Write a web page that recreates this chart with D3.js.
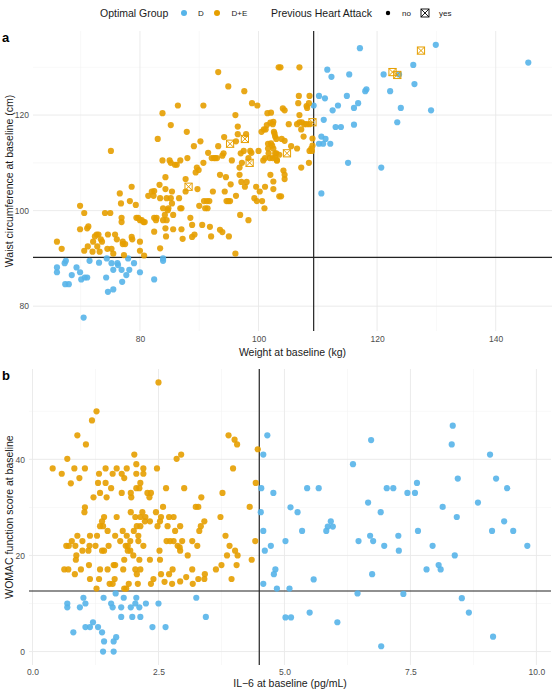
<!DOCTYPE html>
<html>
<head>
<meta charset="utf-8">
<script src="https://cdn.jsdelivr.net/npm/d3@7"></script>
<style>
    body { margin: 0; background: #fff; }
    svg { display: block; font-family: "Liberation Sans", Arial, sans-serif; }
</style>
</head>
<body>
<script>
(function () {
    "use strict";

    // colours of the two optimal groups
    var groupNames = ["D", "D+E"];
    var groupColors = ["#56B4E9", "#E69F00"];

    // panel a: weight (kg) vs waist (cm)
    var weightWaistD = [
        [66.0,88.1],[66.0,87.1],[67.3,89.0],[67.5,89.5],[67.4,84.6],[68.0,84.6],[68.5,86.5],[69.3,88.1],
        [69.9,87.1],[70.1,85.6],[70.7,86.0],[71.1,86.0],[70.5,77.6],[71.5,89.5],[73.1,89.1],[74.4,90.0],
        [74.3,86.0],[74.6,83.0],[75.5,83.5],[75.2,89.0],[75.5,87.6],[76.2,89.0],[76.3,88.6],[76.9,87.6],
        [77.0,85.1],[77.7,86.5],[78.0,90.0],[78.2,87.6],[79.0,89.0],[80.0,87.1],[82.4,85.6],[83.9,90.0],
        [83.9,89.5],
        [109.3,122.0],[110.2,124.0],[111.2,123.5],[111.6,129.5],[112.3,128.0],[111.0,119.0],[110.6,115.5],
        [110.2,114.0],[110.9,114.0],[111.3,115.0],[112.1,114.0],[110.6,103.6],[112.5,121.0],[113.4,122.0],
        [113.0,117.5],[113.9,117.5],[114.9,124.0],[115.3,128.5],[115.1,110.0],[116.1,121.5],[116.1,118.0],
        [116.8,122.5],[117.1,134.0],[118.0,125.0],[118.2,125.4],[120.7,109.0],[121.1,128.5],[122.2,125.0],
        [123.4,118.5],[123.7,128.5],[124.0,121.5],[126.1,130.5],[126.3,126.5],[129.1,121.0],[129.9,134.7],
        [145.5,131.0]
    ];
    var weightWaistDE = [
        [66.0,93.5],[66.8,92.0],[69.9,101.0],[69.9,96.1],[70.6,99.5],[70.6,91.6],[71.1,96.3],[71.3,96.7],
        [71.2,92.5],[72.0,91.4],[72.1,93.5],[72.4,94.6],[72.7,95.0],[72.8,92.5],[73.0,95.0],[73.2,91.4],
        [73.4,94.0],[73.6,93.5],[74.1,99.5],[74.5,92.0],[74.6,95.0],[75.0,99.5],[75.1,112.5],[75.2,92.0],
        [75.5,91.0],[75.8,95.0],[76.1,94.0],[76.6,103.6],[76.8,101.5],[76.9,98.5],[76.9,97.6],[77.1,93.5],
        [77.1,93.0],[77.5,93.0],[77.3,90.7],[78.3,102.0],[78.6,105.0],[78.7,94.0],[78.6,94.5],[79.3,101.2],
        [79.4,98.5],[79.7,98.5],[80.0,98.0],[80.3,98.0],[80.6,97.6],[80.8,97.6],[80.0,93.5],[80.0,91.6],
        [80.7,90.6],[81.4,103.1],[82.0,104.0],[82.3,103.1],[82.4,104.1],[82.7,98.0],[82.4,98.5],[82.8,98.5],
        [82.4,95.6],[83.0,115.0],[83.3,105.4],[83.4,102.6],[83.4,92.1],[83.8,120.4],[83.8,110.5],[85.2,117.9],
        [83.9,100.5],[83.9,98.0],[84.2,99.1],[84.3,96.3],[84.5,98.0],[84.3,107.0],[84.3,104.5],[84.5,102.6],
        [84.7,100.1],[84.8,100.5],[84.4,94.6],[85.0,110.5],[85.2,110.0],[85.2,102.6],[85.4,104.0],[85.4,101.5],
        [85.6,99.1],[85.6,96.1],[85.9,109.6],[86.2,109.6],[86.4,122.0],[86.6,102.6],[86.8,110.5],[86.8,100.5],
        [87.0,100.5],[87.0,96.1],[87.2,94.1],[87.7,104.0],[87.7,106.6],[87.9,116.5],[88.0,111.0],[88.5,98.5],
        [88.8,97.0],[88.8,94.5],[89.1,113.5],[89.2,95.0],[89.4,108.0],[89.6,109.0],[89.7,104.5],[89.9,108.5],
        [90.0,101.0],[90.2,114.5],[90.5,97.0],[90.7,122.0],[90.7,110.0],[90.8,102.0],[91.0,100.5],[91.3,102.0],
        [91.4,100.5],[91.5,112.1],[91.7,102.0],[91.8,96.6],[92.0,94.6],[92.1,111.0],[92.3,104.0],[92.5,111.0],
        [92.7,111.0],[93.0,111.0],[93.2,129.0],[93.2,113.5],[93.5,107.5],[93.5,96.0],[93.9,95.5],[93.9,111.5],
        [94.1,112.0],[94.2,115.4],[94.3,104.0],[94.5,107.0],[94.6,102.0],[94.9,126.0],[94.9,102.0],[95.0,94.6],
        [95.2,102.0],[95.3,105.5],[95.5,110.5],[96.1,91.0],[96.1,120.0],[96.2,103.1],[96.2,114.5],[96.5,117.6],
        [96.5,116.0],[96.8,109.0],[96.8,107.5],[96.9,99.1],[97.0,112.0],[97.2,110.0],[97.1,106.0],[97.5,112.5],
        [97.6,125.0],[97.7,105.0],[97.9,116.0],[98.0,106.0],[98.3,98.0],[98.3,111.0],[98.6,112.5],[98.8,112.1],
        [98.9,122.5],[99.3,102.6],[99.6,105.0],[99.7,102.0],[99.8,122.0],[100.0,112.5],[100.2,104.0],
        [100.5,116.5],[100.6,102.0],[100.8,110.5],[100.9,117.0],[101.0,100.5],[101.1,105.0],[101.1,111.0],
        [101.2,117.0],[101.4,117.9],[101.5,120.4],[101.6,114.0],[101.6,113.0],[101.7,112.0],[101.9,111.0],
        [102.0,107.5],[102.5,118.6],[102.5,104.5],[102.6,116.5],[102.8,115.5],[102.8,112.0],[103.1,110.5],
        [103.4,130.0],[103.5,103.0],
        [103.7,130.0],[106.9,130.0],[102.1,120.5],[104.1,121.4],[104.4,121.0],[102.0,118.4],[102.4,118.1],
        [102.7,116.1],[103.0,115.0],[103.9,115.0],[104.4,114.6],[102.1,114.1],[102.3,113.6],[102.5,113.0],
        [103.0,112.0],[102.8,111.1],[103.1,110.5],[103.5,111.7],[102.4,111.0],[102.5,106.1],[104.2,108.4],
        [104.4,107.5],[104.4,106.6],[103.8,103.0],[105.1,118.1],[105.5,113.5],[106.5,118.1],[106.9,118.5],
        [107.3,118.5],[107.7,118.1],[108.1,118.1],[108.6,118.1],[106.8,124.0],[106.7,122.5],[106.9,120.0],
        [108.1,121.9],[108.2,121.5],[108.6,124.0],[108.5,122.5],[107.2,117.0],[107.6,115.5],[106.5,113.0],
        [107.2,109.0],[108.5,110.0],[109.1,115.1],[109.1,113.6],[108.9,113.0],[108.6,112.5],[109.0,112.5]
    ];
    // D+E participants with a previous heart attack
    var weightWaistHeart = [
        [88.2,105.0],[95.2,114.0],[97.7,115.0],[98.5,110.0],[109.1,118.5],[104.8,112.0],
        [122.6,129.0],[123.4,128.4],[127.4,133.5]
    ];

    // panel b: IL-6 (pg/mL) vs WOMAC function score
    var il6WomacD = [
        [0.69,10.0],[0.69,9.2],[0.94,9.2],[1.01,11.2],[1.05,10.0],[0.81,4.0],[1.05,5.1],[1.14,5.1],
        [1.20,6.1],[1.30,5.1],[1.38,4.0],[1.42,2.1],[1.40,0.0],[1.61,2.1],[1.61,0.0],[1.66,3.0],
        [1.41,11.2],[1.56,10.0],[1.59,9.2],[1.65,12.1],[1.76,9.2],[1.76,7.2],[1.81,11.2],[1.95,9.2],
        [1.98,7.2],[2.04,10.0],[2.06,11.2],[2.12,9.2],[2.14,7.2],[2.25,10.0],[2.38,5.1],[2.50,10.0],
        [2.64,5.1],[3.25,11.2],[3.44,7.2],
        [4.58,41.0],[4.66,45.0],[4.54,34.0],[4.78,33.0],[4.53,29.0],[4.58,25.1],[4.61,21.0],[4.73,22.0],
        [4.82,17.1],[4.79,16.1],[4.58,14.1],[4.85,13.1],
        [5.02,23.0],[5.02,7.1],[5.10,13.1],[5.13,7.1],[5.12,30.0],[5.26,29.0],[5.35,25.1],[5.45,34.0],
        [5.50,8.1],[5.58,15.0],[5.68,34.0],[5.83,25.1],[5.86,26.0],[5.92,27.1],[5.96,26.0],[6.05,6.1],
        [6.36,39.0],[6.45,12.1],[6.47,23.0],[6.66,31.0],[6.70,24.1],[6.72,44.0],[6.74,16.1],[6.76,23.0],
        [6.92,1.1],[6.91,29.0],[6.98,22.0],[7.03,34.0],[7.16,34.0],[7.26,24.1],[7.27,21.0],[7.36,12.0],
        [7.44,33.0],[7.59,33.0],[7.63,35.1],[7.65,25.1],[7.82,17.1],[7.94,22.0],[8.06,18.0],[8.10,17.1],
        [8.14,30.1],[8.32,43.1],[8.34,47.0],[8.38,20.0],[8.42,28.0],[8.44,36.0],[8.52,11.1],[8.66,8.1],
        [8.84,31.0],[9.08,41.0],[9.12,25.1],[9.14,3.1],[9.20,36.0],[9.36,27.1],[9.42,34.0],[9.54,25.1],
        [9.82,22.0]
    ];
    var il6WomacDE = [
        [2.50,56.0],[1.27,50.0],[1.18,48.1],[0.89,45.0],[1.06,43.1],[3.89,45.0],[4.01,44.1],[4.06,43.1],
        [4.47,42.1],[0.69,40.1],[2.02,41.0],[2.95,41.0],[2.86,40.1],[3.98,38.1],[0.40,38.1],[0.83,38.1],
        [1.04,38.1],[1.45,38.1],[1.67,38.1],[2.47,38.1],[2.20,38.1],[0.58,37.0],[0.93,36.1],[1.32,37.0],
        [1.59,37.0],[1.77,37.0],[1.87,38.1],[2.06,39.0],[2.20,37.0],[2.06,37.0],[1.82,36.1],[0.76,35.0],
        [1.30,35.1],[1.45,35.1],[2.14,35.1],[2.06,34.0],[2.12,34.0],[1.56,34.0],[2.65,34.0],[3.01,34.0],
        [4.43,35.1],[1.34,33.0],[1.47,32.1],[1.77,33.0],[1.95,33.0],[1.96,32.1],[2.28,33.0],[2.35,33.0],
        [2.32,32.1],[1.21,32.1],[3.77,33.0],[3.35,32.1],[3.24,30.1],[3.29,30.1],[4.31,30.1],[2.59,30.1],
        [1.04,30.0],[1.03,29.0],[1.95,29.0],[2.45,29.0],[2.04,28.0],[2.14,28.0],[2.18,29.0],[2.24,28.0],
        [1.67,28.0],[1.42,28.0],[2.55,28.0],[2.71,28.0],[2.80,28.0],[3.73,28.0],[2.23,27.1],[2.33,27.1],
        [2.53,27.1],[1.38,27.1],[3.41,27.1],[1.34,26.1],[1.40,26.1],[2.07,26.1],[2.14,26.1],[2.48,26.1],
        [2.68,26.1],[2.93,26.1],[3.34,26.1],[0.89,24.1],[1.14,24.1],[1.28,24.1],[1.79,25.1],[1.49,25.1],
        [2.01,25.1],[2.83,25.1],[3.31,25.1],[1.64,24.1],[1.87,24.1],[2.10,24.1],[3.83,24.1],[4.42,23.0],
        [3.17,23.0],[2.66,23.0],[2.73,23.0],[2.80,23.0],[2.97,23.0],[0.78,23.0],[0.99,23.0],[1.74,23.0],
        [1.94,23.0],[2.10,23.0],[2.20,22.0],[0.67,22.0],[0.72,22.0],[0.85,22.0],[1.13,22.0],[1.25,22.0],
        [1.51,22.0],[1.85,22.0],[1.89,22.0],[2.88,22.0],[2.92,21.7],[3.27,22.0],[3.91,22.0],[0.99,21.0],
        [1.11,21.0],[1.38,21.0],[1.42,21.0],[1.89,21.0],[1.94,21.0],[2.93,21.0],[2.52,21.0],[4.02,21.0],
        [0.87,20.0],[2.00,20.0],[3.08,20.0],[3.86,20.0],[4.07,20.0],[0.86,19.1],[1.82,19.1],[2.12,19.1],
        [2.33,19.1],[2.53,19.1],[4.35,19.1],[1.12,18.0],[1.61,18.0],[1.64,18.0],[3.75,18.0],[4.05,18.0],
        [0.63,17.1],[0.71,17.1],[0.96,17.1],[1.34,17.1],[1.49,17.1],[1.80,17.1],[2.04,17.1],[2.14,17.1],
        [2.78,17.1],[3.17,17.1],[3.64,17.1],[0.84,16.1],[2.07,16.1],[2.55,16.1],[2.71,16.1],[3.42,16.1],
        [1.14,15.1],[1.32,15.1],[1.63,15.1],[2.40,15.1],[3.29,15.1],[3.41,15.1],[3.95,15.1],[1.53,14.1],
        [1.59,14.1],[1.91,14.1],[2.09,14.1],[2.35,14.1],[2.77,14.1],[3.18,14.1],[1.27,13.1],[1.82,13.1],
        [1.86,13.1],[2.62,14.5],[2.93,14.6],[3.05,15.5]
    ];

    // cut-offs drawn as reference lines
    var weightCut = 109.3, waistCut = 90.2;
    var il6Cut = 4.5, womacCut = 12.6;

    var width = 558, height = 690;

    var svg = d3.select("body").append("svg")
        .attr("width", width)
        .attr("height", height);

    svg.append("rect").attr("width", width).attr("height", height).attr("fill", "white");

    /*
     * LEGEND
     */
    var legend = svg.append("g").attr("transform", "translate(0,13)");
    legend.append("text").attr("x", 100).attr("y", 4).attr("font-size", 10.5).attr("fill", "#1a1a1a")
        .text("Optimal Group");
    legend.selectAll("circle.grp").data(groupNames).enter().append("circle")
        .attr("class", "grp")
        .attr("cx", function (d, i) { return 184 + i * 33; })
        .attr("cy", 0).attr("r", 3)
        .attr("fill", function (d, i) { return groupColors[i]; });
    legend.selectAll("text.grp").data(groupNames).enter().append("text")
        .attr("class", "grp")
        .attr("x", function (d, i) { return 198 + i * 33.5; })
        .attr("y", 3).attr("font-size", 8).attr("fill", "#1a1a1a")
        .text(function (d) { return d; });
    legend.append("text").attr("x", 271).attr("y", 4).attr("font-size", 10.5).attr("fill", "#1a1a1a")
        .text("Previous Heart Attack");
    legend.append("circle").attr("cx", 388).attr("cy", 0).attr("r", 2.2).attr("fill", "black");
    legend.append("text").attr("x", 402).attr("y", 3).attr("font-size", 8).attr("fill", "#1a1a1a").text("no");
    drawBoxX(legend, 425, 0, 4, "black");
    legend.append("text").attr("x", 439).attr("y", 3).attr("font-size", 8).attr("fill", "#1a1a1a").text("yes");

    function drawBoxX(sel, cx, cy, h, color) {
        var g = sel.append("g").attr("transform", "translate(" + cx + "," + cy + ")")
            .attr("fill", "none").attr("stroke", color).attr("stroke-width", 0.9);
        g.append("rect").attr("x", -h).attr("y", -h).attr("width", 2 * h).attr("height", 2 * h);
        g.append("path").attr("d", "M" + (-h) + "," + (-h) + "L" + h + "," + h + "M" + h + "," + (-h) + "L" + (-h) + "," + h);
        return g;
    }

    /*
     * PANELS
     */
    function drawPanel(p) {
        var x = d3.scaleLinear().domain(p.xDomain).range([p.left, p.right]);
        var y = d3.scaleLinear().domain(p.yDomain).range([p.bottom, p.top]);
        var g = svg.append("g");

        // minor then major grid
        g.append("g").selectAll("line").data(p.xMinor).enter().append("line")
            .attr("x1", x).attr("x2", x).attr("y1", p.top).attr("y2", p.bottom)
            .attr("stroke", "#f1f1f1").attr("stroke-width", 0.5);
        g.append("g").selectAll("line").data(p.yMinor).enter().append("line")
            .attr("y1", y).attr("y2", y).attr("x1", p.left).attr("x2", p.right)
            .attr("stroke", "#f1f1f1").attr("stroke-width", 0.5);
        g.append("g").selectAll("line").data(p.xTicks).enter().append("line")
            .attr("x1", x).attr("x2", x).attr("y1", p.top).attr("y2", p.bottom)
            .attr("stroke", "#e9e9e9").attr("stroke-width", 0.9);
        g.append("g").selectAll("line").data(p.yTicks).enter().append("line")
            .attr("y1", y).attr("y2", y).attr("x1", p.left).attr("x2", p.right)
            .attr("stroke", "#e9e9e9").attr("stroke-width", 0.9);

        // axes: labels only
        var xAxis = g.append("g").attr("transform", "translate(0," + p.bottom + ")")
            .call(d3.axisBottom(x).tickValues(p.xTicks).tickSize(0).tickPadding(p.tickPad).tickFormat(p.xFormat));
        var yAxis = g.append("g").attr("transform", "translate(" + p.left + ",0)")
            .call(d3.axisLeft(y).tickValues(p.yTicks).tickSize(0).tickPadding(4).tickFormat(d3.format("d")));
        [xAxis, yAxis].forEach(function (a) {
            a.select(".domain").remove();
            a.selectAll("text").attr("fill", "#4d4d4d").attr("font-size", 8.5)
                .attr("font-family", "'Liberation Sans', Arial, sans-serif");
        });

        // cut-off lines
        g.append("line").attr("x1", x(p.xCut)).attr("x2", x(p.xCut)).attr("y1", p.top).attr("y2", p.bottom)
            .attr("stroke", "#222").attr("stroke-width", 1.2);
        g.append("line").attr("x1", p.left).attr("x2", p.right).attr("y1", y(p.yCut)).attr("y2", y(p.yCut))
            .attr("stroke", "#222").attr("stroke-width", 1.2);

        // points
        p.series.forEach(function (s, i) {
            g.append("g").selectAll("circle").data(s).enter().append("circle")
                .attr("cx", function (d) { return x(d[0]); })
                .attr("cy", function (d) { return y(d[1]); })
                .attr("r", 3.1)
                .attr("fill", groupColors[i])
                .attr("fill-opacity", 0.9);
        });
        (p.heart || []).forEach(function (d) {
            drawBoxX(g, x(d[0]), y(d[1]), 3.6, groupColors[1]).attr("stroke-width", 1);
        });

        // titles
        g.append("text").attr("x", (p.left + p.right) / 2).attr("y", p.bottom + p.titleGap)
            .attr("text-anchor", "middle").attr("font-size", 10.5).attr("fill", "#1a1a1a").text(p.xTitle);
        g.append("text").attr("transform", "translate(13," + ((p.top + p.bottom) / 2) + ") rotate(-90)")
            .attr("text-anchor", "middle").attr("font-size", 10.5).attr("fill", "#1a1a1a").text(p.yTitle);
        g.append("text").attr("x", 2).attr("y", p.top + 11).attr("font-size", 13)
            .attr("font-weight", "bold").text(p.tag);
    }

    drawPanel({
        tag: "a",
        left: 33, right: 552, top: 31, bottom: 331,
        xDomain: [61.96, 149.5], yDomain: [74.8, 137.6],
        xTicks: [80, 100, 120, 140], xMinor: [70, 90, 110, 130],
        yTicks: [80, 100, 120], yMinor: [90, 110, 130],
        xFormat: d3.format("d"),
        xCut: weightCut, yCut: waistCut,
        series: [weightWaistD, weightWaistDE],
        heart: weightWaistHeart,
        tickPad: 5, titleGap: 25,
        xTitle: "Weight at baseline (kg)",
        yTitle: "Waist circumference at baseline (cm)"
    });

    drawPanel({
        tag: "b",
        left: 29, right: 551, top: 369, bottom: 665,
        xDomain: [-0.07, 10.29], yDomain: [-2.8, 58.8],
        xTicks: [0, 2.5, 5, 7.5, 10], xMinor: [1.25, 3.75, 6.25, 8.75],
        yTicks: [0, 20, 40], yMinor: [10, 30, 50],
        xFormat: d3.format(".1f"),
        xCut: il6Cut, yCut: womacCut,
        series: [il6WomacD, il6WomacDE],
        tickPad: 4, titleGap: 22,
        xTitle: "IL\u22126 at baseline (pg/mL)",
        yTitle: "WOMAC function score at baseline"
    });
})();
</script>
</body>
</html>
